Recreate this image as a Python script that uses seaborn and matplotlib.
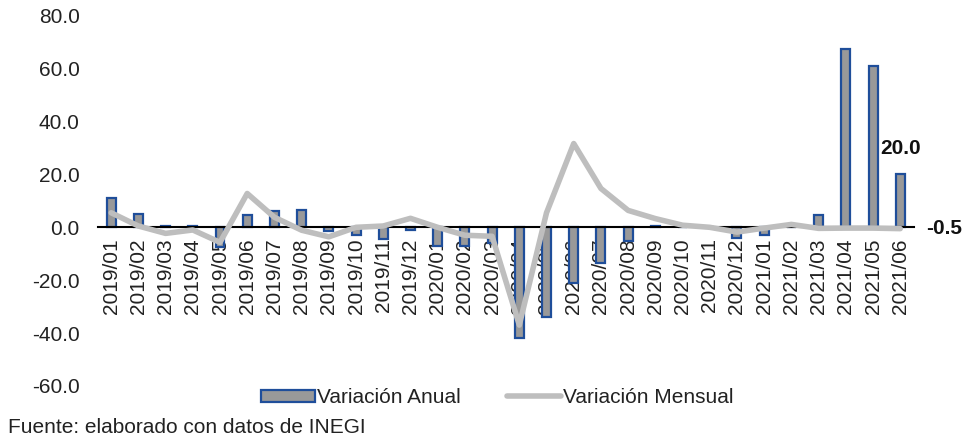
import numpy as np
import pandas as pd
import matplotlib
matplotlib.use("Agg")
import matplotlib.pyplot as plt
import seaborn as sns
from matplotlib.patches import Patch
from matplotlib.lines import Line2D

meses = ["2019/01", "2019/02", "2019/03", "2019/04", "2019/05", "2019/06",
         "2019/07", "2019/08", "2019/09", "2019/10", "2019/11", "2019/12",
         "2020/01", "2020/02", "2020/03", "2020/04", "2020/05", "2020/06",
         "2020/07", "2020/08", "2020/09", "2020/10", "2020/11", "2020/12",
         "2021/01", "2021/02", "2021/03", "2021/04", "2021/05", "2021/06"]
variacion_anual = [11.0, 5.0, 0.5, 0.5, -7.5, 4.5, 6.0, 6.5, -1.5, -3.0, -4.5, -1.0,
                   -7.0, -7.0, -6.0, -42.0, -34.0, -21.0, -13.5, -5.0, 0.5, 0.2,
                   0.2, -4.0, -3.0, 0.3, 4.5, 67.5, 61.0, 20.0]
variacion_mensual = [5.5, 0.5, -2.3, -1.0, -5.7, 12.8, 3.8, -1.1, -3.6, 0.0, 0.5, 3.4,
                     0.0, -3.0, -3.4, -37.0, 5.5, 31.7, 14.7, 6.4, 3.3, 0.8,
                     0.0, -1.8, -0.3, 1.1, -0.4, -0.3, -0.3, -0.5]
y_ticks = [-60, -40, -20, 0, 20, 40, 60, 80]

df = pd.DataFrame({"mes": meses, "anual": variacion_anual, "mensual": variacion_mensual})

sns.set_theme(style="white")
plt.rcParams["font.family"] = ["Liberation Sans", "DejaVu Sans"]

FS = 15
txt_col = "#222222"

fig = plt.figure(figsize=(9.66, 4.42), dpi=100)
ax = fig.add_axes([0.101, 0.127, 0.845, 0.837])

bar_face = "#999999"
bar_edge = "#1F4E9A"
line_col = "#BEBEBE"

sns.barplot(data=df, x="mes", y="anual", ax=ax, color=bar_face, saturation=1,
            width=0.33, edgecolor=bar_edge, linewidth=1.6, zorder=2)
sns.lineplot(data=df, x="mes", y="mensual", ax=ax, color=line_col, linewidth=4.0,
             sort=False, zorder=3)

ax.set_ylim(-60, 80)
ax.set_xlim(-0.5, len(meses) - 0.5)
ax.set_yticks(y_ticks)
ax.set_yticklabels([f"{v:.1f}" for v in y_ticks], fontsize=FS, color=txt_col)
ax.set_xlabel("")
ax.set_ylabel("")

for s in ["top", "right", "left"]:
    ax.spines[s].set_visible(False)
ax.spines["bottom"].set_position(("data", 0))
ax.spines["bottom"].set_color("black")
ax.spines["bottom"].set_linewidth(1.5)
ax.spines["bottom"].set_zorder(2.5)
ax.tick_params(axis="x", length=0, pad=8, labelrotation=90, labelsize=FS, labelcolor=txt_col)
ax.tick_params(axis="y", length=0, pad=13)
ax.grid(False)

# Data labels
ax.annotate(f"{variacion_anual[-1]:.1f}", xy=(len(meses) - 1, variacion_anual[-1]),
            xytext=(0, 12), textcoords="offset points", ha="center", va="bottom",
            fontsize=FS, fontweight="bold", color="#111111")
ax.annotate(f"{variacion_mensual[-1]:.1f}", xy=(len(meses) - 1, variacion_mensual[-1]),
            xytext=(19, 0), textcoords="offset points", ha="left", va="center",
            fontsize=FS, fontweight="bold", color="#111111", annotation_clip=False)

handles = [Patch(facecolor=bar_face, edgecolor=bar_edge, linewidth=1.6),
           Line2D([0], [0], color=line_col, linewidth=4.0)]
fig.legend(handles, ["Variación Anual", "Variación Mensual"], loc="center",
           bbox_to_anchor=(0.515, 0.1), ncol=2, frameon=False, fontsize=FS,
           handlelength=2.6, handleheight=0.55, handletextpad=0.1, columnspacing=2.2,
           labelcolor=txt_col)

fig.text(0.008, 0.032, "Fuente: elaborado con datos de INEGI", fontsize=FS,
         color=txt_col, ha="left", va="center")

fig.savefig("out.png", dpi=100)
